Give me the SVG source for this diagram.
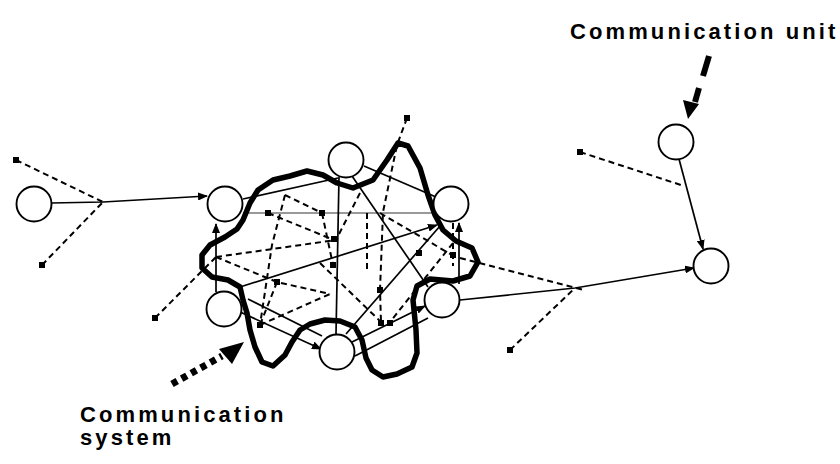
<svg xmlns="http://www.w3.org/2000/svg" width="840" height="464" viewBox="0 0 840 464">
<style>
.node{fill:#fff;stroke:#000;stroke-width:1.9}
.s{fill:none;stroke:#000;stroke-width:1.7}
.g{fill:none;stroke:#777;stroke-width:1.7}
.d{fill:none;stroke:#000;stroke-width:2;stroke-dasharray:6 4}
.sq{fill:#000}
.blob{fill:none;stroke:#000;stroke-width:5.5;stroke-linejoin:round;stroke-linecap:round}
.lbl{font-family:"Liberation Sans",Arial,sans-serif;font-weight:bold;font-size:22px;letter-spacing:3.1px;fill:#000}
</style>
<defs>
<marker id="ar" markerWidth="10" markerHeight="8" refX="9" refY="4" orient="auto" markerUnits="userSpaceOnUse">
<path d="M0,0 L10,4 L0,8 Z" fill="#000"/>
</marker>
</defs>
<rect width="840" height="464" fill="#fff"/>

<g id="connectors">
<polyline class="s" points="51,203 103,202 207,196" marker-end="url(#ar)"/>
<line class="s" x1="243" y1="199" x2="338" y2="178"/>
<line class="s" x1="364" y1="166" x2="436" y2="197"/>
<line class="g" x1="243" y1="213" x2="443" y2="213"/>
<line class="s" x1="339" y1="177" x2="336" y2="334"/>
<line class="s" x1="216" y1="292" x2="216" y2="224" marker-end="url(#ar)"/>
<line class="s" x1="459" y1="284" x2="459" y2="223" marker-end="url(#ar)"/>
<line class="s" x1="240" y1="287" x2="437" y2="225" marker-end="url(#ar)"/>
<line class="s" x1="346" y1="334" x2="440" y2="226"/>
<line class="s" x1="352" y1="176" x2="428" y2="287"/>
<line class="s" x1="238" y1="311" x2="321" y2="349" marker-end="url(#ar)"/>
<line class="s" x1="248" y1="299" x2="322" y2="336"/>
<line class="s" x1="352" y1="342" x2="425" y2="306" marker-end="url(#ar)"/>
<line class="s" x1="355" y1="356" x2="428" y2="318"/>
<polyline class="s" points="460,300 575,288 694,268" marker-end="url(#ar)"/>
<line class="s" x1="679" y1="159" x2="703" y2="249" marker-end="url(#ar)"/>
<line class="d" x1="16" y1="160" x2="103" y2="202"/>
<line class="d" x1="42" y1="265" x2="103" y2="202"/>
<line class="d" x1="580" y1="152" x2="684" y2="186"/>
<line class="d" x1="460" y1="258" x2="584" y2="290"/>
<line class="d" x1="510" y1="350" x2="575" y2="288"/>
<line class="d" x1="155" y1="318" x2="216" y2="257"/>
<polyline class="d" points="407,118 397,145 383,212 380,290 381,322"/>
<polyline class="d" points="216,257 277,282 330,294"/>
<line class="d" x1="285" y1="195" x2="322" y2="213"/>
<polyline class="d" points="285,195 272,245 260,325"/>
<line class="d" x1="268" y1="213" x2="334" y2="240"/>
<line class="d" x1="360" y1="193" x2="337" y2="238"/>
<line class="d" x1="367" y1="213" x2="367" y2="272"/>
<line class="d" x1="322" y1="213" x2="333" y2="265"/>
<line class="d" x1="453" y1="243" x2="390" y2="322"/>
<line class="d" x1="320" y1="263" x2="381" y2="322"/>
<line class="d" x1="277" y1="282" x2="260" y2="325"/>
<line class="d" x1="380" y1="213" x2="452" y2="255"/>
<line class="d" x1="216" y1="257" x2="336" y2="240"/>
<line class="d" x1="260" y1="325" x2="330" y2="294"/>
<line class="d" x1="453" y1="223" x2="453" y2="266"/>
<rect class="sq" x="13" y="157" width="6" height="6"/>
<rect class="sq" x="39" y="262" width="6" height="6"/>
<rect class="sq" x="577" y="149" width="6" height="6"/>
<rect class="sq" x="507" y="347" width="6" height="6"/>
<rect class="sq" x="152" y="315" width="6" height="6"/>
<rect class="sq" x="404" y="115" width="6" height="6"/>
<rect class="sq" x="265" y="210" width="6" height="6"/>
<rect class="sq" x="319" y="210" width="6" height="6"/>
<rect class="sq" x="274" y="279" width="6" height="6"/>
<rect class="sq" x="257" y="322" width="6" height="6"/>
<rect class="sq" x="331" y="236" width="6" height="6"/>
<rect class="sq" x="330" y="262" width="6" height="6"/>
<rect class="sq" x="378" y="320" width="6" height="6"/>
<rect class="sq" x="387" y="320" width="6" height="6"/>
<rect class="sq" x="377" y="287" width="6" height="6"/>
<rect class="sq" x="416" y="250" width="6" height="6"/>
<rect class="sq" x="450" y="252" width="6" height="6"/>
</g>

<g id="system-boundary">
<polygon class="blob" points="243,220 250,203 258,190 273,180 290,176 307,171 323,175 337,183 353,188 373,180 387,160 398,143 408,146 420,168 428,195 435,215 443,230 456,241 472,248 478,262 470,276 453,281 430,279 417,286 413,300 416,330 417,353 412,367 397,374 383,377 372,370 366,358 362,340 355,327 340,321 325,320 310,324 300,330 292,342 285,355 273,366 262,362 255,347 250,330 247,313 243,300 240,287 228,280 212,277 202,268 202,255 210,245 225,237 237,229"/>
</g>

<g id="node-a"><circle class="node" cx="34" cy="204" r="17.5"/></g>
<g id="node-b"><circle class="node" cx="225" cy="204" r="17.5"/></g>
<g id="node-c"><circle class="node" cx="346" cy="160" r="17.5"/></g>
<g id="node-d"><circle class="node" cx="451" cy="204" r="17.5"/></g>
<g id="node-e"><circle class="node" cx="224" cy="309" r="17.5"/></g>
<g id="node-f"><circle class="node" cx="337" cy="352" r="17.5"/></g>
<g id="node-g"><circle class="node" cx="442" cy="300" r="17.5"/></g>
<g id="node-h"><circle class="node" cx="676" cy="142" r="17.5"/></g>
<g id="node-i"><circle class="node" cx="711" cy="266" r="17.5"/></g>

<g id="label-unit">
<text class="lbl" x="570" y="39">Communication unit</text>
<line x1="709" y1="56" x2="703" y2="76" stroke="#000" stroke-width="6"/>
<line x1="699" y1="88" x2="695" y2="102" stroke="#000" stroke-width="6"/>
<path d="M683,100 L699,104 L688,119 Z" fill="#000"/>
</g>

<g id="label-system">
<text class="lbl" x="80" y="422">Communication</text>
<text class="lbl" x="80" y="445">system</text>
<line x1="172" y1="384" x2="222" y2="356" stroke="#000" stroke-width="7" stroke-dasharray="6 5"/>
<path d="M219,349 L244,342 L232,364 Z" fill="#000"/>
</g>
</svg>
